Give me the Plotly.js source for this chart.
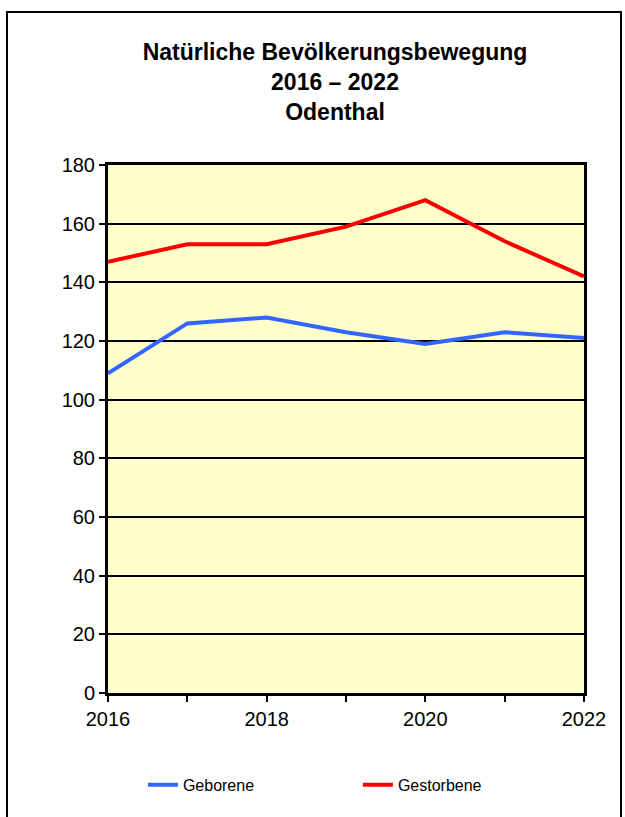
<!DOCTYPE html>
<html>
<head>
<meta charset="utf-8">
<script src="https://cdn.plot.ly/plotly-3.0.1.min.js"></script>
<style>
  html, body { margin: 0; padding: 0; background: #fff; }
  #chart { width: 625px; height: 817px; }
  #frame { position: absolute; left: 6px; top: 11px; width: 612px; height: 820px; border: 2px solid #000; pointer-events: none; }
</style>
</head>
<body>
<div id="chart"></div>
<div id="frame"></div>
<script>
const years = [2016, 2017, 2018, 2019, 2020, 2021, 2022];
const geborene = [109, 126, 128, 123, 119, 123, 121];
const gestorbene = [147, 153, 153, 159, 168, 154, 142];
const xTickVals = [2016, 2017, 2018, 2019, 2020, 2021, 2022];
const xTickText = ['2016', '', '2018', '', '2020', '', '2022'];

const traces = [
  { x: years, y: geborene, name: 'Geborene', type: 'scatter', mode: 'lines',
    line: { color: '#3366FF', width: 4 } },
  { x: years, y: gestorbene, name: 'Gestorbene', type: 'scatter', mode: 'lines',
    line: { color: '#FF0000', width: 4 } }
];

const layout = {
  width: 625, height: 817,
  margin: { l: 108, r: 41, t: 165, b: 124 },
  paper_bgcolor: '#ffffff',
  plot_bgcolor: '#FFFFCC',
  font: { family: 'Liberation Sans, Arial, sans-serif', color: '#000' },
  title: {
    text: '<b>Natürliche Bevölkerungsbewegung<br>2016 – 2022<br>Odenthal</b>',
    font: { size: 23, family: 'Liberation Sans, Arial, sans-serif', color: '#000' },
    x: 0.536, xanchor: 'center', xref: 'container',
    y: 1 - 60 / 817, yanchor: 'top', yref: 'container'
  },
  xaxis: {
    range: [2016, 2022],
    tickvals: xTickVals, ticktext: xTickText,
    ticks: 'outside', ticklen: 6, tickwidth: 2, tickcolor: '#000',
    showline: true, linecolor: '#000', linewidth: 3, mirror: true,
    showgrid: false, zeroline: false,
    tickfont: { size: 20, color: '#000' }
  },
  yaxis: {
    range: [0, 180], dtick: 20,
    ticks: 'outside', ticklen: 6, tickwidth: 2, tickcolor: '#000',
    showline: true, linecolor: '#000', linewidth: 3, mirror: true,
    showgrid: true, gridcolor: '#000', gridwidth: 2, zeroline: false,
    tickfont: { size: 20, color: '#000' }
  },
  showlegend: true,
  legend: {
    orientation: 'h', x: 0.525, xanchor: 'center', y: -0.174, yanchor: 'middle',
    font: { size: 16, color: '#000' }, entrywidth: 170, bgcolor: 'rgba(0,0,0,0)'
  }
};

Plotly.newPlot('chart', traces, layout, { displayModeBar: false, staticPlot: true });
</script>
</body>
</html>
